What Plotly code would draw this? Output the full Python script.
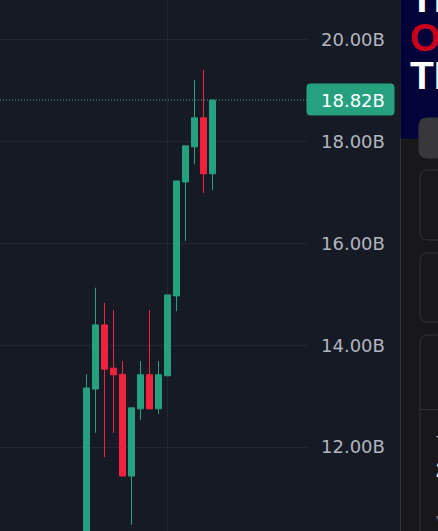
import plotly.graph_objects as go

W = 438
H = 531

# in billions
candle_idx = [0, 1, 2, 3, 4, 5, 6, 7, 8, 9, 10, 11, 12, 13, 14]
open_b = [10.00, 13.14, 14.40, 13.55, 13.43, 11.43, 12.75, 13.42, 12.75, 13.40, 14.97, 17.21, 17.90, 18.47, 17.37]
high_b = [13.43, 15.13, 14.83, 14.69, 13.69, 12.77, 13.69, 14.69, 13.69, 14.99, 17.23, 17.92, 19.21, 19.41, 18.82]
low_b = [9.50, 12.28, 11.80, 12.28, 11.43, 10.47, 12.53, 12.75, 12.65, 13.40, 14.67, 16.05, 17.56, 16.99, 17.05]
close_b = [13.16, 14.40, 13.53, 13.42, 11.43, 12.77, 13.42, 12.75, 13.42, 14.99, 17.23, 17.92, 18.47, 17.37, 18.82]

last_price = 18.82
tick_vals = [12, 14, 16, 18, 20]
tick_text = ["12.00B", "14.00B", "16.00B", "18.00B", "20.00B"]

BG = "#161a25"
GRID = "#232630"
UP = "#26a17f"
DOWN = "#f2223f"
PANEL = "#18181b"
EDGE = "#323236"


def px(x):
    return x / W


def py(y):
    return 1 - y / H


def box(x0, y0, x1, y1, fill, line=None):
    return dict(type="rect", xref="paper", yref="paper", layer="above",
                x0=px(x0), x1=px(x1), y0=py(y0), y1=py(y1),
                fillcolor=fill, line=dict(color=line or fill, width=1))


# rounded corners need a path, plotly rects are square
def rounded(x0, y0, x1, y1, r, fill, line=None):
    path = (f"M {px(x0 + r)} {py(y0)} L {px(x1 - r)} {py(y0)} "
            f"Q {px(x1)} {py(y0)} {px(x1)} {py(y0 + r)} L {px(x1)} {py(y1 - r)} "
            f"Q {px(x1)} {py(y1)} {px(x1 - r)} {py(y1)} L {px(x0 + r)} {py(y1)} "
            f"Q {px(x0)} {py(y1)} {px(x0)} {py(y1 - r)} L {px(x0)} {py(y0 + r)} "
            f"Q {px(x0)} {py(y0)} {px(x0 + r)} {py(y0)} Z")
    return dict(type="path", xref="paper", yref="paper", layer="above", path=path,
                fillcolor=fill, line=dict(color=line or fill, width=1))


data = [go.Candlestick(x=candle_idx, open=open_b, high=high_b, low=low_b, close=close_b,
                       whiskerwidth=0,
                       increasing=dict(line=dict(color=UP, width=1), fillcolor=UP),
                       decreasing=dict(line=dict(color=DOWN, width=1), fillcolor=DOWN))]

shapes = [
    dict(type="line", xref="x domain", yref="y", x0=0, x1=1, y0=last_price, y1=last_price,
         layer="below", line=dict(color="#4f9f90", width=1, dash="1px,2px")),
    box(400, 0, 438, 531, PANEL),
    dict(type="line", xref="paper", yref="paper", x0=px(400.5), x1=px(400.5), y0=0, y1=1,
         line=dict(color=EDGE, width=1)),
    box(401, -2, 440, 138, "#03033a"),
    rounded(419, 118, 450, 158, 8, "#38383c"),
    rounded(420, 170, 450, 240, 8, PANEL, EDGE),
    rounded(420, 253, 450, 322, 8, PANEL, EDGE),
    rounded(420, 335, 450, 545, 8, PANEL, EDGE),
    dict(type="line", xref="paper", yref="paper", x0=px(420), x1=1, y0=py(409.5), y1=py(409.5),
         line=dict(color=EDGE, width=1)),
    rounded(307, 84, 394, 115, 3, UP),
]


def side_text(text, x, y, color, size):
    return dict(text=text, xref="paper", yref="paper", x=px(x), y=py(y),
                xanchor="left", yanchor="middle", showarrow=False,
                font=dict(family="Liberation Sans", size=size, color=color))


annotations = [
    dict(text="18.82B", xref="paper", yref="y", x=px(319), y=last_price,
         xanchor="left", yanchor="middle", showarrow=False,
         font=dict(family="DejaVu Sans", size=18, color="#ffffff")),
    side_text("<b>TH</b>", 408, -1, "#ffffff", 39),
    side_text("<b>O</b>", 408, 38, "#c8001e", 39),
    side_text("<b>TH</b>", 408, 76, "#ffffff", 39),
    side_text("T", 434, 440, "#b2b5be", 15),
    side_text("<b>2</b>", 434, 469, "#ffffff", 22),
    side_text("V", 434, 520, "#787b86", 15),
]

layout = go.Layout(
    width=W, height=H,
    margin=dict(l=0, r=0, t=0, b=0),
    paper_bgcolor=BG, plot_bgcolor=BG,
    showlegend=False,
    boxgap=0.33, boxgroupgap=0,
    xaxis=dict(domain=[0, px(307)], range=[-9.611, 24.5], rangeslider=dict(visible=False),
               tickmode="array", tickvals=[9], showticklabels=False, ticks="",
               showgrid=True, gridcolor=GRID, gridwidth=1, zeroline=False, showline=False),
    yaxis=dict(side="right", anchor="x", range=[10.349, 20.786],
               tickmode="array", tickvals=tick_vals, ticktext=tick_text,
               showgrid=True, gridcolor=GRID, gridwidth=1, zeroline=False, showline=False,
               ticks="", ticklabelstandoff=13,
               tickfont=dict(family="DejaVu Sans", size=18, color="#b2b5be")),
    shapes=shapes,
    annotations=annotations,
)

fig = go.Figure(data=data, layout=layout)
fig.write_html("out.html", config={"displayModeBar": False},
               post_script="document.body.style.margin='0';")
